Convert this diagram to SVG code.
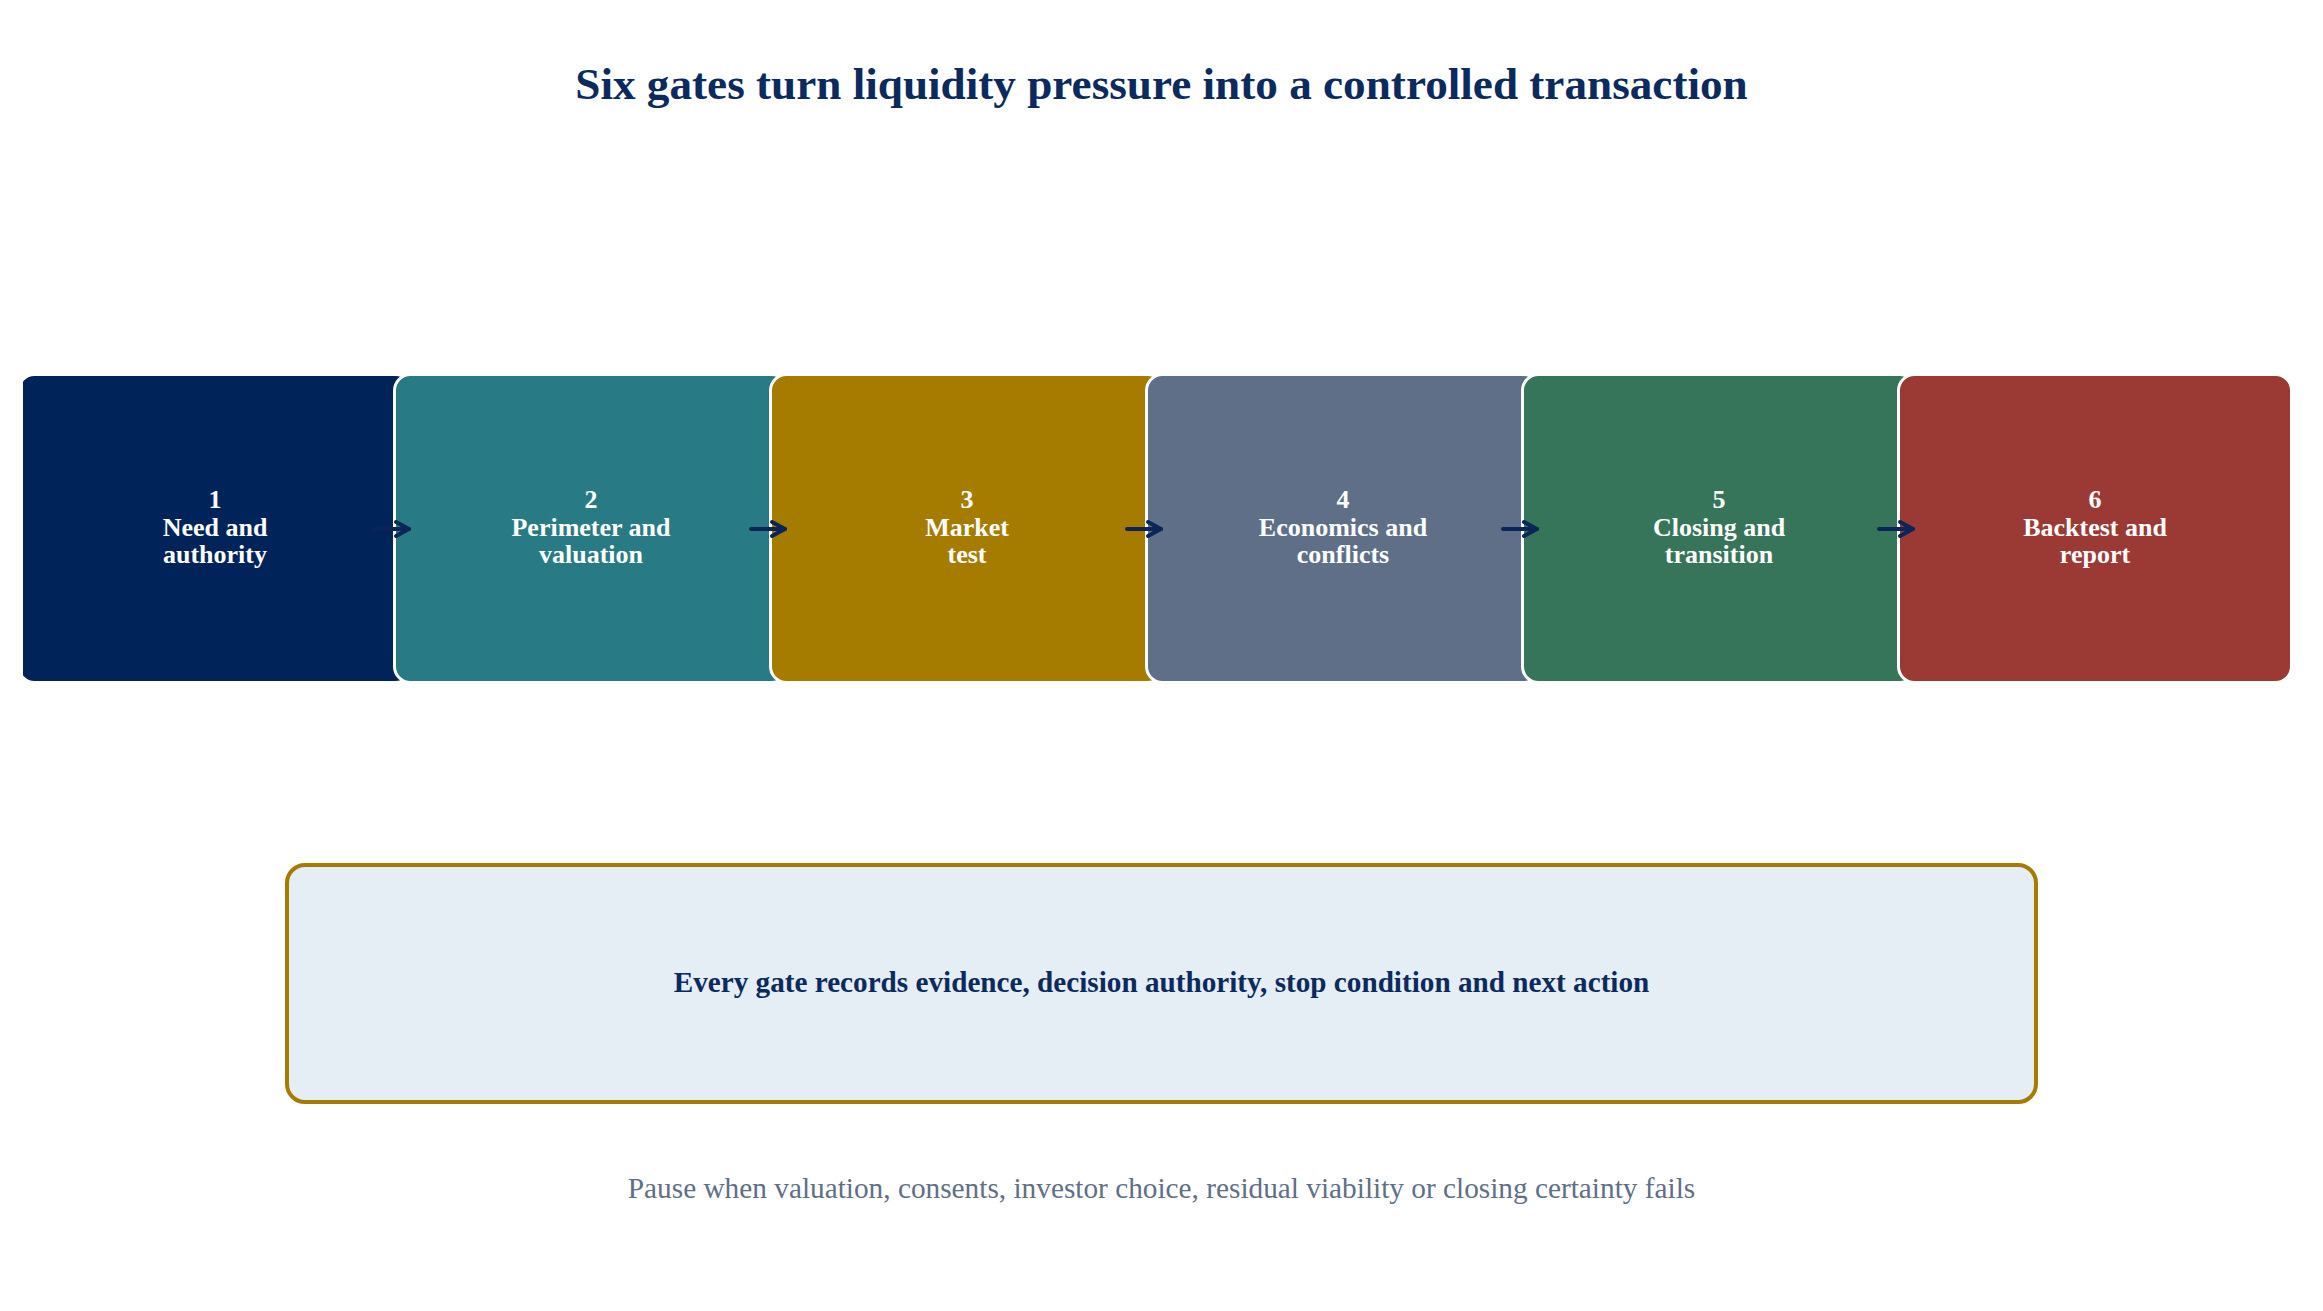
<svg xmlns="http://www.w3.org/2000/svg" width="2323" height="1311" viewBox="0 0 2323 1311">
  <style>
    .title { font-family: "Liberation Serif", "Times New Roman", serif; font-weight: bold; font-size: 45.2px; fill: #0B2A5E; text-anchor: middle; }
    .gate { stroke: #FFFFFF; stroke-width: 3; }
    .gtext { font-family: "Liberation Serif", "Times New Roman", serif; font-weight: bold; font-size: 26px; fill: #FFFFFF; text-anchor: middle; }
    .conn { stroke: #0B2559; stroke-width: 4; fill: none; stroke-linecap: round; }
    .summary { fill: #E5EDF5; stroke: #A67C00; stroke-width: 4; }
    .stext { font-family: "Liberation Serif", "Times New Roman", serif; font-weight: bold; font-size: 29.2px; fill: #0B2A5E; text-anchor: middle; }
    .foot { font-family: "Liberation Serif", "Times New Roman", serif; font-size: 29.3px; fill: #5F6F88; text-anchor: middle; }
  </style>
  <defs>
    <marker id="arrow" markerUnits="userSpaceOnUse" markerWidth="24" markerHeight="24" refX="16" refY="12" orient="auto" viewBox="0 0 24 24">
      <path d="M3 5 L16 12 L3 19" fill="none" stroke="#0B2559" stroke-width="4" stroke-linecap="round" stroke-linejoin="round"/>
    </marker>
    <clipPath id="clipLeft">
      <rect x="23" y="0" width="2300" height="1311"/>
    </clipPath>
  </defs>
  <rect x="0" y="0" width="2323" height="1311" fill="#FFFFFF"/>

  <text class="title" x="1161.5" y="99">Six gates turn liquidity pressure into a controlled transaction</text>

  <g id="gate1" clip-path="url(#clipLeft)">
    <rect class="gate" x="18.5" y="374.5" width="393" height="308" rx="16" fill="#00235A"/>
    <text class="gtext" x="215" y="508">1</text>
    <text class="gtext" x="215" y="535.5">Need and</text>
    <text class="gtext" x="215" y="563">authority</text>
  </g>
  <g id="gate2">
    <rect class="gate" x="394.5" y="374.5" width="393" height="308" rx="16" fill="#287B84"/>
    <text class="gtext" x="591" y="508">2</text>
    <text class="gtext" x="591" y="535.5">Perimeter and</text>
    <text class="gtext" x="591" y="563">valuation</text>
  </g>
  <g id="gate3">
    <rect class="gate" x="770.5" y="374.5" width="393" height="308" rx="16" fill="#A67C00"/>
    <text class="gtext" x="967" y="508">3</text>
    <text class="gtext" x="967" y="535.5">Market</text>
    <text class="gtext" x="967" y="563">test</text>
  </g>
  <g id="gate4">
    <rect class="gate" x="1146.5" y="374.5" width="393" height="308" rx="16" fill="#5F6F88"/>
    <text class="gtext" x="1343" y="508">4</text>
    <text class="gtext" x="1343" y="535.5">Economics and</text>
    <text class="gtext" x="1343" y="563">conflicts</text>
  </g>
  <g id="gate5">
    <rect class="gate" x="1522.5" y="374.5" width="393" height="308" rx="16" fill="#36755A"/>
    <text class="gtext" x="1719" y="508">5</text>
    <text class="gtext" x="1719" y="535.5">Closing and</text>
    <text class="gtext" x="1719" y="563">transition</text>
  </g>
  <g id="gate6">
    <rect class="gate" x="1898.5" y="374.5" width="393" height="308" rx="16" fill="#9B3A35"/>
    <text class="gtext" x="2095" y="508">6</text>
    <text class="gtext" x="2095" y="535.5">Backtest and</text>
    <text class="gtext" x="2095" y="563">report</text>
  </g>

  <g id="connectors">
    <line class="conn" x1="375" y1="529" x2="409" y2="529" marker-end="url(#arrow)"/>
    <line class="conn" x1="751" y1="529" x2="785" y2="529" marker-end="url(#arrow)"/>
    <line class="conn" x1="1127" y1="529" x2="1161" y2="529" marker-end="url(#arrow)"/>
    <line class="conn" x1="1503" y1="529" x2="1537" y2="529" marker-end="url(#arrow)"/>
    <line class="conn" x1="1879" y1="529" x2="1913" y2="529" marker-end="url(#arrow)"/>
  </g>

  <g id="summary">
    <rect class="summary" x="287" y="865" width="1749" height="237" rx="18"/>
    <text class="stext" x="1161.5" y="992">Every gate records evidence, decision authority, stop condition and next action</text>
  </g>

  <text class="foot" x="1161.5" y="1198">Pause when valuation, consents, investor choice, residual viability or closing certainty fails</text>
</svg>
